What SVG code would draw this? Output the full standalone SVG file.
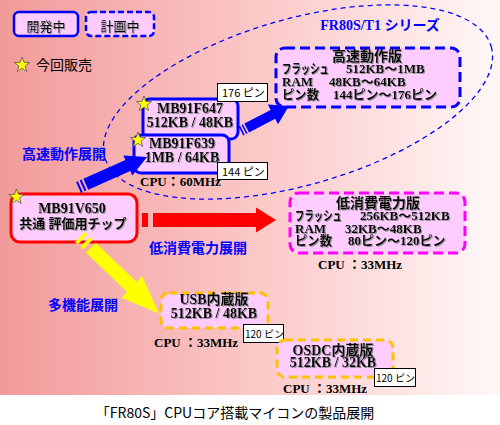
<svg xmlns="http://www.w3.org/2000/svg" xmlns:xlink="http://www.w3.org/1999/xlink" width="500" height="425" viewBox="0 0 500 425">
<defs>
<linearGradient id="bg" x1="0" y1="0" x2="1" y2="0">
<stop offset="0" stop-color="#F29A9A"/>
<stop offset="0.55" stop-color="#FCCBCB"/>
<stop offset="1" stop-color="#FFF8F8"/>
</linearGradient>
<filter id="sh" x="-5%" y="-20%" width="115%" height="150%">
<feDropShadow dx="1" dy="1" stdDeviation="0.2" flood-color="#888" flood-opacity="0.9"/>
</filter>
<path id="star" d="M0,-8 L1.94,-2.67 L7.61,-2.47 L3.14,1.02 L4.7,6.47 L0,3.3 L-4.7,6.47 L-3.14,1.02 L-7.61,-2.47 L-1.94,-2.67 Z" fill="#FFFF00" stroke="#555" stroke-width="0.8"/>
</defs>
<style>
.box{fill:#FFCCFF}
.solidB{stroke:#0000FF;stroke-width:3}
.dashB{stroke:#0000FF;stroke-width:3;stroke-dasharray:10 5}
.dashM{stroke:#FF00FF;stroke-width:3;stroke-dasharray:10 5}
.dashY{stroke:#FFC000;stroke-width:3;stroke-dasharray:8 5}
.red{stroke:#FF0000;stroke-width:3}
.n{font-family:"Liberation Serif","Noto Sans CJK JP",serif;font-weight:bold;fill:#000;filter:url(#sh)}
.s13{font-size:13px}
.s14{font-size:14px}
.j{font-family:"Noto Sans CJK JP",sans-serif;fill:#000}
.lab{font-family:"Noto Sans CJK JP",sans-serif;font-weight:bold;font-size:14px;fill:#0000FF}
.pin{fill:#fff;stroke:#000;stroke-width:1}
.pt{font-family:"Noto Sans CJK JP",sans-serif;fill:#000}
.cpu{font-family:"Liberation Serif","Noto Sans CJK JP",serif;font-weight:bold;font-size:13px;fill:#000}
</style>
<rect x="0" y="0" width="500" height="425" fill="#fff"/>
<rect x="0" y="0" width="500" height="395" fill="url(#bg)"/>

<g id="series">
<ellipse cx="298" cy="102" rx="201" ry="83" transform="rotate(-16 298 102)" fill="none" stroke="#0000FF" stroke-width="1.3" stroke-dasharray="5 4"/>
<text x="380" y="30" text-anchor="middle" style="font-family:'Liberation Serif','Noto Sans CJK JP',serif;font-weight:bold;font-size:14px;fill:#0000FF">FR80S/T1 シリーズ</text>
</g>

<g id="legend-dev">
<rect class="box" x="14" y="12" width="64" height="24" rx="5" stroke="#0000FF" stroke-width="2.5"/>
<text class="j" x="46" y="31" font-size="13" text-anchor="middle" filter="url(#sh)">開発中</text>
</g>
<g id="legend-plan">
<rect class="box" x="86" y="12" width="68" height="24" rx="5" stroke="#0000FF" stroke-width="2.5" stroke-dasharray="6 3"/>
<text class="j" x="120" y="31" font-size="13" text-anchor="middle" filter="url(#sh)">計画中</text>
</g>
<g id="legend-star">
<use xlink:href="#star" x="22" y="65"/>
<text class="j" x="36" y="70" font-size="14">今回販売</text>
</g>

<g id="labels">
<text class="lab" x="64" y="159" text-anchor="middle">高速動作展開</text>
<text class="lab" x="198" y="253" text-anchor="middle">低消費電力展開</text>
<text class="lab" x="83" y="310" text-anchor="middle">多機能展開</text>
</g>

<g id="node-hs">
<rect class="box dashB" x="276" y="48" width="184" height="59" rx="9"/>
<text class="n s13"><tspan x="332" y="61" font-size="14">高速動作版</tspan><tspan x="282" y="73" textLength="47" lengthAdjust="spacingAndGlyphs">フラッシュ</tspan><tspan x="346" y="73">512KB～1MB</tspan><tspan x="282" y="86">RAM</tspan><tspan x="329" y="86">48KB～64KB</tspan><tspan x="282" y="99" textLength="37" lengthAdjust="spacingAndGlyphs">ピン数</tspan><tspan x="333" y="99">144ピン～176ピン</tspan></text>
</g>

<g id="node-lp">
<rect class="box dashM" x="290" y="193" width="175" height="60" rx="9"/>
<text class="n s13"><tspan x="336" y="208" font-size="14">低消費電力版</tspan><tspan x="295" y="220" textLength="47" lengthAdjust="spacingAndGlyphs">フラッシュ</tspan><tspan x="360" y="220">256KB～512KB</tspan><tspan x="295" y="233">RAM</tspan><tspan x="345" y="233">32KB～48KB</tspan><tspan x="295" y="245" textLength="37" lengthAdjust="spacingAndGlyphs">ピン数</tspan><tspan x="348" y="245">80ピン～120ピン</tspan></text>
<text class="cpu" x="318" y="269">CPU ：33MHz</text>
</g>

<g id="node-f647">
<rect class="box solidB" x="143" y="99" width="95" height="40" rx="7"/>
<text class="n s14" text-anchor="middle"><tspan x="190" y="113">MB91F647</tspan><tspan x="190" y="127">512KB / 48KB</tspan></text>
<use xlink:href="#star" x="144" y="104"/>
<rect class="pin" x="217.5" y="83.5" width="50" height="18"/>
<text class="pt" x="222" y="97" font-size="11">176 ピン</text>
</g>

<g id="node-f639">
<rect class="box solidB" x="134" y="135" width="95" height="38" rx="7"/>
<text class="n s14" text-anchor="middle"><tspan x="182" y="148">MB91F639</tspan><tspan x="182" y="162">1MB / 64KB</tspan></text>
<use xlink:href="#star" x="138" y="140"/>
<rect class="pin" x="217.5" y="162.5" width="50" height="17"/>
<text class="pt" x="222" y="175.5" font-size="11">144 ピン</text>
<text class="cpu" x="140" y="186">CPU：60MHz</text>
</g>

<g id="node-v650">
<rect class="box red" x="11" y="194" width="126" height="48" rx="9"/>
<text class="n s14" text-anchor="middle"><tspan x="72" y="213">MB91V650</tspan><tspan x="73" y="228" font-size="13">共通 評価用チップ</tspan></text>
<use xlink:href="#star" x="16.5" y="197"/>
</g>

<g id="node-usb">
<rect class="box dashY" x="161" y="293" width="107" height="35" rx="8"/>
<text class="n s14" text-anchor="middle"><tspan x="214" y="304">USB内蔵版</tspan><tspan x="214" y="318">512KB / 48KB</tspan></text>
<rect class="pin" x="243.5" y="324.5" width="40" height="18"/>
<text class="pt" x="245" y="337.5" font-size="10">120 ピン</text>
<text class="cpu" x="154" y="347">CPU ：33MHz</text>
</g>

<g id="node-osdc">
<rect class="box dashY" x="277" y="340" width="116" height="37" rx="8"/>
<text class="n s14" text-anchor="middle"><tspan x="333" y="355">OSDC内蔵版</tspan><tspan x="333" y="367">512KB / 32KB</tspan></text>
<rect class="pin" x="374.5" y="368.5" width="41" height="18"/>
<text class="pt" x="376" y="381.5" font-size="10">120 ピン</text>
<text class="cpu" x="283" y="393">CPU ：33MHz</text>
</g>

<g id="connectors">
<g transform="translate(78.5 187.5) rotate(-24)" fill="#0000FF">
<rect x="0" y="-6" width="2" height="12"/>
<rect x="4" y="-6" width="2" height="12"/>
<path d="M8,-6 H54 V-11 L75,0 L54,11 V6 H8 Z"/>
</g>
<g transform="translate(241 131) rotate(-27.5)" fill="#0000FF">
<rect x="0" y="-5" width="1.6" height="10"/>
<rect x="3.2" y="-5" width="1.6" height="10"/>
<path d="M6.4,-5 H36 V-11 L54,0 L36,11 V5 H6.4 Z"/>
</g>
<g transform="translate(142 220)" fill="#FF0000">
<rect x="0" y="-7" width="6" height="14"/>
<path d="M11,-7 H114 V-12.5 L134,0 L114,12.5 V7 H11 Z"/>
</g>
<g transform="translate(80 237) rotate(44)" fill="#FFFF00">
<rect x="0" y="-7" width="3.5" height="14"/>
<rect x="7" y="-7" width="4" height="14"/>
<path d="M15,-7 H72 V-15 L110,0 L72,15 V7 H15 Z"/>
</g>
</g>

<text class="j" x="235" y="418" font-size="14" text-anchor="middle">「FR80S」CPUコア搭載マイコンの製品展開</text>
</svg>
